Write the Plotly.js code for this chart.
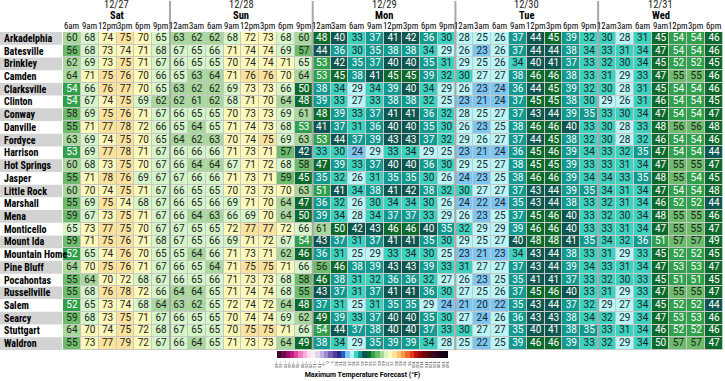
<!DOCTYPE html>
<html><head><meta charset="utf-8">
<script src="https://cdn.plot.ly/plotly-3.0.1.min.js"></script>
<style>html,body{margin:0;padding:0;background:#fff}#chart{width:725px;height:381px}</style>
</head><body><div id="chart"></div>
<script>
const cities = ["Arkadelphia","Batesville","Brinkley","Camden","Clarksville","Clinton","Conway","Danville","Fordyce","Harrison","Hot Springs","Jasper","Little Rock","Marshall","Mena","Monticello","Mount Ida","Mountain Home","Pine Bluff","Pocahontas","Russellville","Salem","Searcy","Stuttgart","Waldron"];
const dates = ["12/27","12/28","12/29","12/30","12/31"];
const days = ["Sat","Sun","Mon","Tue","Wed"];
const hoursSat = ["6am","9am","12pm","3pm","6pm","9pm"];
const hoursSun = ["12am","3am","6am","9am","12pm","3pm","6pm","9pm"];
const hoursMon = ["12am","3am","6am","9am","12pm","3pm","6pm","9pm"];
const hoursTue = ["12am","3am","6am","9am","12pm","3pm","6pm","9pm"];
const hoursWed = ["12am","3am","6am","9am","12pm","3pm","6pm"];

const sat = [
[60,68,74,75,70,65],[56,68,73,74,71,68],[62,69,73,75,71,67],[64,71,75,76,70,66],[54,66,76,77,70,65],
[54,67,74,75,69,62],[58,69,75,76,71,67],[55,71,77,78,72,66],[63,69,74,75,70,65],[53,69,77,78,71,67],
[60,68,73,75,70,67],[55,71,78,76,69,67],[60,70,74,75,71,67],[55,69,75,74,68,67],[59,67,73,75,71,67],
[65,73,77,75,70,67],[59,71,75,76,71,68],[52,65,74,76,70,65],[64,70,75,76,71,67],[55,64,70,72,68,67],
[55,68,76,78,72,66],[52,65,73,74,68,64],[59,68,73,75,71,67],[64,70,74,75,72,68],[55,73,77,79,72,67]];
const sun = [
[63,62,62,68,72,73,68,60],[67,65,66,71,74,74,69,57],[66,65,65,70,74,74,71,65],[65,63,64,71,76,76,70,64],[63,62,62,69,73,73,66,50],
[62,61,62,68,71,70,64,48],[66,65,65,70,73,73,69,61],[65,64,65,71,74,73,68,53],[64,62,63,70,74,75,69,63],[66,66,66,71,73,71,57,42],
[66,64,64,67,71,72,68,58],[67,66,66,71,73,71,59,45],[66,65,65,70,73,73,70,63],[66,65,66,69,71,70,64,47],[66,64,63,66,69,70,64,50],
[67,65,65,72,77,77,72,66],[67,65,66,69,71,72,67,54],[65,64,66,71,73,71,62,46],[66,65,64,71,75,75,71,66],[66,65,66,71,73,73,68,58],
[64,64,65,71,74,74,68,55],[63,62,65,72,74,72,64,48],[66,65,65,70,74,74,69,62],[67,65,65,70,75,75,71,66],[66,64,65,71,73,73,64,49]];
const mon = [
[48,40,33,37,41,42,36,30],[44,36,30,35,38,38,34,29],[53,42,35,37,40,40,35,31],[53,45,38,41,45,45,39,32],[38,34,29,34,39,40,34,29],
[39,33,27,33,38,38,32,25],[48,39,33,37,41,41,36,32],[41,37,31,36,40,40,35,30],[53,44,37,39,43,43,37,32],[33,30,24,29,33,34,29,25],
[47,39,33,37,40,40,36,30],[35,32,26,31,35,35,30,26],[51,41,34,38,41,42,38,32],[36,32,26,30,34,34,30,26],[39,34,28,34,37,37,33,29],
[61,50,42,43,46,46,40,35],[43,37,31,37,41,41,35,30],[36,31,25,29,33,34,30,25],[56,46,38,39,43,43,39,33],[46,38,31,32,36,36,32,27],
[43,37,31,37,41,41,36,30],[37,31,25,31,35,35,29,24],[49,39,33,37,40,40,35,30],[54,44,37,38,40,40,37,33],[38,34,29,35,39,39,34,28]];
const tue = [
[28,25,26,37,44,45,39,32],[26,23,26,37,44,44,38,34],[29,25,26,34,40,41,37,33],[30,27,27,38,46,46,38,33],[26,23,24,36,44,45,39,32],
[23,21,24,37,45,45,38,30],[28,25,27,37,43,44,39,35],[26,23,25,38,46,46,40,33],[29,26,27,37,44,45,38,32],[23,21,24,36,45,46,39,34],
[29,25,27,38,45,45,39,33],[24,23,25,38,46,46,39,34],[30,27,27,37,43,44,39,35],[24,22,24,35,43,44,38,33],[26,23,25,37,45,46,40,33],
[32,29,29,39,46,46,40,33],[29,25,27,40,48,48,41,35],[23,21,23,34,43,44,38,33],[31,27,27,37,43,44,39,34],[26,23,25,35,41,41,37,33],
[27,25,26,37,45,46,40,33],[21,20,22,35,43,44,37,32],[27,24,26,36,43,43,38,34],[30,27,27,35,40,41,38,35],[25,22,25,39,46,46,39,33]];
const wed = [
[30,28,31,45,54,54,46],[33,31,34,47,54,54,46],[32,30,34,45,52,52,45],[31,29,33,47,55,55,46],[30,28,31,45,54,54,46],
[29,26,31,46,54,54,45],[33,30,34,47,54,54,47],[30,28,33,48,56,56,48],[30,28,32,46,54,54,46],[33,32,35,47,54,54,44],
[33,31,34,47,55,55,47],[34,33,35,48,55,54,45],[34,31,34,47,54,54,48],[32,31,34,46,52,52,44],[32,30,34,48,55,55,46],
[33,31,34,47,55,55,47],[34,32,36,51,57,57,49],[31,29,33,45,52,52,45],[33,31,34,47,53,53,47],[32,30,33,45,51,51,45],
[31,29,33,47,55,55,47],[29,27,34,45,52,52,44],[32,29,34,47,53,53,46],[33,31,34,46,52,52,46],[32,29,34,50,57,57,47]];

// colour bins (lower bound, colour), 5°F wide
const binStart = -60, binWidth = 5;
const binColors = ["#3c0a2c","#6c0c4c","#9c1068","#c41c80","#e0449c","#f07cbc","#f8b0d8","#fcdcee",
"#f4f0f8","#ddd4ee","#c0b0e0","#9c88cc","#7860b4","#503c98","#2c2c88","#2a5cc8",
"#7cc6f4","#b8f6fa","#3cd2c0","#129a90","#0e5650","#0c6a2c","#30a04c","#6cbc6c",
"#a8d89c","#d4f6c8","#fdf9b8","#fce29a","#fbc070","#f89a48","#f06a2c","#e03a1c",
"#c01010","#980808","#700808","#500810","#3a0818","#2a0620","#1c0418","#100210"];

const hourGroups = [hoursSat,hoursSun,hoursMon,hoursTue,hoursWed];
const dayBlocks = [sat,sun,mon,tue,wed];
const hours = [].concat(...hourGroups);
const nCol = hours.length, nRow = cities.length;
const z = cities.map((c,i)=>[].concat(...dayBlocks.map(b=>b[i])));
const xs = hours.map((h,j)=>j);
const ys = cities.map((c,i)=>i);

const zmin = binStart, zmax = binStart + binWidth*binColors.length;
const cs = [];
binColors.forEach((col,k)=>{
  cs.push([k/binColors.length, col]);
  cs.push([(k+1)/binColors.length, col]);
});

const tw = {x:[],y:[],t:[]}, tb = {x:[],y:[],t:[]};
z.forEach((row,i)=>row.forEach((v,j)=>{
  const dark = v>=35 && v<55;
  const o = dark?tw:tb;
  o.x.push(j); o.y.push(i); o.t.push(String(v));
}));

const W=725,H=381,L=63,R=2,T=32,B=21;
const pw=W-L-R, ph=H-T-B;
const py = p => (H-B-p)/ph;
const px = p => (p-L)/pw;
const NARROW = 'Liberation Sans Narrow, Roboto Condensed, Arial Narrow, sans-serif';

const shapes=[], ann=[];
cities.forEach((c,i)=>{
  if(i%2===0) shapes.push({type:'rect',xref:'paper',yref:'y',x0:px(0),x1:px(62),y0:i-0.5,y1:i+0.5,fillcolor:'#d3d3d3',line:{width:0},layer:'below'});
  ann.push({xref:'paper',yref:'y',x:px(1.5),y:i,text:'<b>'+c+'</b>',showarrow:false,xanchor:'left',yanchor:'middle',
    font:{family:NARROW,size:10,color:'#000'}});
});
let start=0;
hourGroups.forEach((g,d)=>{
  const mid = start + (g.length-1)/2;
  ann.push({xref:'x',yref:'paper',x:mid,y:py(3.5),text:dates[d],showarrow:false,yanchor:'middle',
    font:{family:NARROW,size:10.5,color:'#222'}});
  ann.push({xref:'x',yref:'paper',x:mid,y:py(14.5),text:'<b>'+days[d]+'</b>',showarrow:false,yanchor:'middle',
    font:{family:NARROW,size:10.5,color:'#000'}});
  g.forEach((h,k)=>{
    ann.push({xref:'x',yref:'paper',x:start+k,y:py(25.5),text:h,showarrow:false,yanchor:'middle',
      font:{family:NARROW,size:8.8,color:'#000'}});
  });
  start += g.length;
  if(d<hourGroups.length-1) shapes.push({type:'line',xref:'x',yref:'paper',x0:start-0.5,x1:start-0.5,y0:0,y1:py(0),line:{color:'#a8a8a8',width:2}});
});

const traces = [
 {type:'heatmap',x:xs,y:ys,z:z,zmin:zmin,zmax:zmax,colorscale:cs,xgap:1,ygap:1,hoverinfo:'skip',
  colorbar:{orientation:'h',x:px(362.5),xanchor:'center',y:py(361),yanchor:'top',ypad:0,xpad:0,
   len:171,lenmode:'pixels',thickness:7,outlinewidth:0,tickmode:'linear',tick0:-60,dtick:5,
   ticks:'',tickfont:{size:4,family:'Roboto',color:'#222'},
   title:{text:'<b>Maximum Temperature Forecast (°F)</b>',side:'bottom',font:{size:7,family:'Roboto',color:'#000'}}}},
 {type:'scatter',mode:'text',x:tw.x,y:tw.y,text:tw.t,textfont:{family:'Roboto',size:10,color:'#fff'},hoverinfo:'skip',showlegend:false},
 {type:'scatter',mode:'text',x:tb.x,y:tb.y,text:tb.t,textfont:{family:'Roboto',size:10,color:'#222'},hoverinfo:'skip',showlegend:false}
];

const layout = {
  width:W,height:H,margin:{l:L,r:R,t:T,b:B},
  paper_bgcolor:'#fff',plot_bgcolor:'#c8c8c8',
  xaxis:{range:[-0.5,nCol-0.5],showticklabels:false,showgrid:false,zeroline:false,ticks:'',fixedrange:true},
  yaxis:{range:[nRow-0.5,-0.5],showticklabels:false,showgrid:false,zeroline:false,ticks:'',fixedrange:true},
  shapes:shapes,annotations:ann,showlegend:false
};
Plotly.newPlot('chart',traces,layout,{displayModeBar:false,staticPlot:true});
</script></body></html>
